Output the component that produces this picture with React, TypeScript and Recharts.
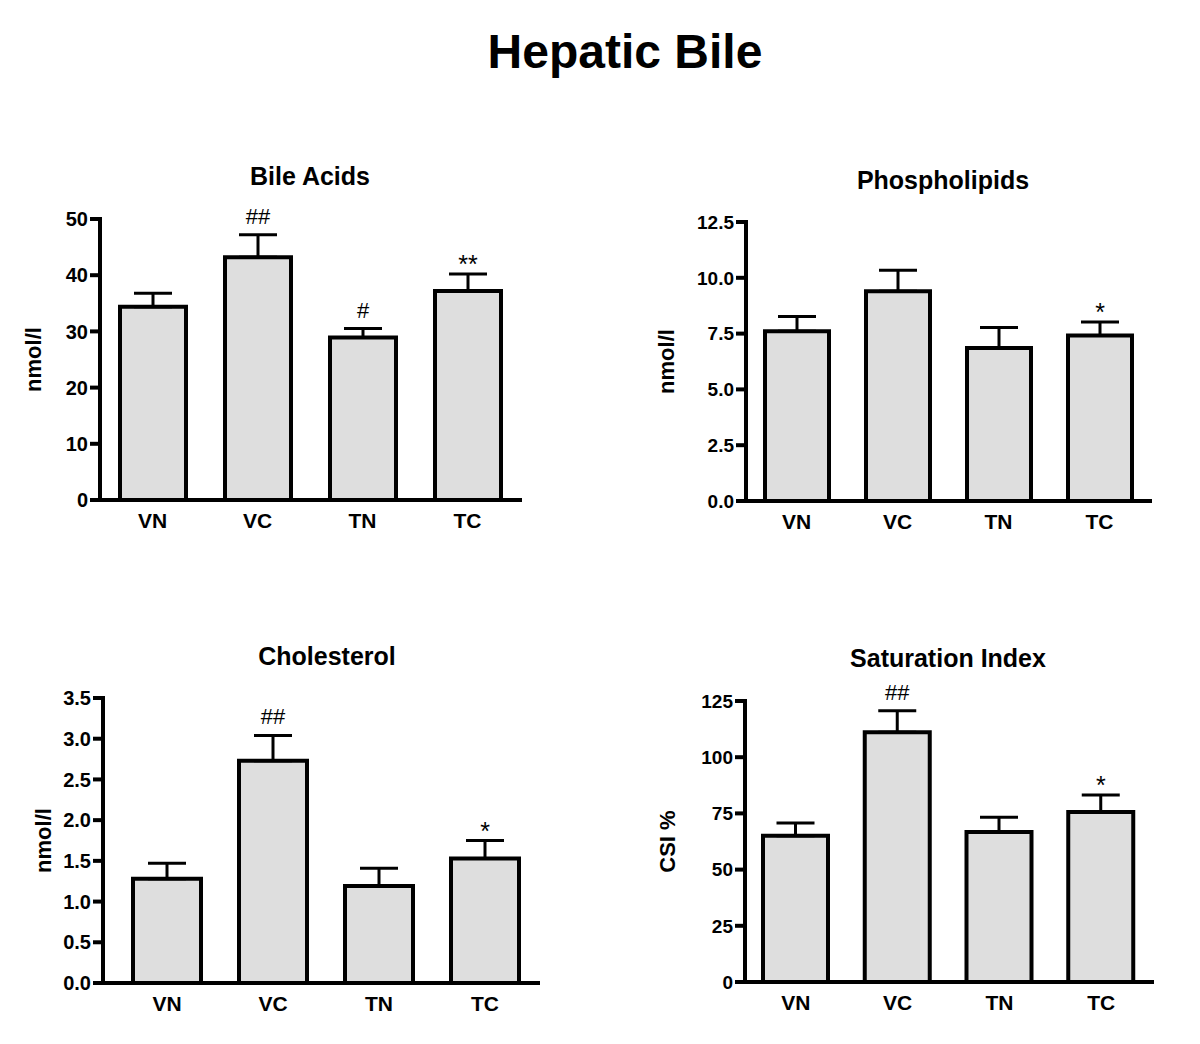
import React from 'react';
import { BarChart, Bar, XAxis, YAxis, ErrorBar, LabelList } from 'recharts';

const categories = ['VN', 'VC', 'TN', 'TC'];

// Bile acids (nmol/l)
const bileAcidsMean = [34.4, 43.2, 28.9, 37.2];
const bileAcidsSem = [2.4, 4.0, 1.6, 3.0];
const bileAcidsSig = ['', '##', '#', '**'];
const bileAcidsTicks = [0, 10, 20, 30, 40, 50];

// Phospholipids (nmol/l)
const phosMean = [7.6, 9.4, 6.86, 7.42];
const phosSem = [0.67, 0.94, 0.91, 0.6];
const phosSig = ['', '', '', '*'];
const phosTicks = [0, 2.5, 5, 7.5, 10, 12.5];

// Cholesterol (nmol/l)
const cholMean = [1.28, 2.73, 1.19, 1.53];
const cholSem = [0.19, 0.31, 0.22, 0.22];
const cholSig = ['', '##', '', '*'];
const cholTicks = [0, 0.5, 1, 1.5, 2, 2.5, 3, 3.5];

// Saturation index (CSI %)
const csiMean = [65.1, 111.1, 66.7, 75.6];
const csiSem = [5.6, 9.6, 6.6, 7.6];
const csiSig = ['', '##', '', '*'];
const csiTicks = [0, 25, 50, 75, 100, 125];

const FONT = '"Liberation Sans", Arial, Helvetica, sans-serif';

const yLabelContent = (text: string, cx: number) => (props: any) => {
  const vb = props.viewBox || { y: 0, height: 0 };
  const cy = vb.y + vb.height / 2;
  return (
    <text
      x={cx}
      y={cy}
      transform={`rotate(-90, ${cx}, ${cy})`}
      textAnchor="middle"
      dominantBaseline="central"
      fontFamily={FONT}
      fontWeight="bold"
      fontSize={22}
      fill="#000"
    >
      {text}
    </text>
  );
};

const sigContent = (means: number[], sems: number[]) => (props: any) => {
  const { x, y, width, height, index, value } = props;
  if (!value) return null;
  const pxPerUnit = Number(height) / means[index];
  const errTop = Number(y) - sems[index] * pxPerUnit;
  const isHash = String(value).includes('#');
  return (
    <text
      x={Number(x) + Number(width) / 2}
      y={errTop - (isHash ? 11 : 1)}
      textAnchor="middle"
      fontFamily={FONT}
      fontSize={isHash ? 22 : 25}
      fill="#000"
    >
      {value}
    </text>
  );
};

const Title = ({ text, cx, cy, size }: { text: string; cx: number; cy: number; size: number }) => (
  <div
    style={{
      position: 'absolute',
      left: cx - 300,
      width: 600,
      top: cy - size / 2,
      lineHeight: `${size}px`,
      fontSize: size,
      fontWeight: 'bold',
      fontFamily: FONT,
      textAlign: 'center',
      color: '#000',
    }}
  >
    {text}
  </div>
);

interface PanelProps {
  means: number[];
  sems: number[];
  sig: string[];
  ticks: number[];
  decimals: number;
  tickFont: number;
  yLabel: string;
  labelX: number;
  left: number;
  top: number;
  width: number;
  height: number;
  axisWidth: number;
  marginTop: number;
  marginRight: number;
  barSize: number;
  padLeft: number;
}

const Panel = (p: PanelProps) => {
  const data = categories.map((name, i) => ({
    name,
    mean: p.means[i],
    err: [0, p.sems[i]],
    sig: p.sig[i],
  }));
  return (
    <div style={{ position: 'absolute', left: p.left, top: p.top }}>
      <BarChart
        width={p.width}
        height={p.height}
        data={data}
        margin={{ top: p.marginTop, right: p.marginRight, bottom: 10, left: 0 }}
        style={{ overflow: 'visible' }}
      >
        <XAxis
          dataKey="name"
          interval={0}
          height={30}
          tickLine={false}
          tickSize={10}
          tickMargin={3}
          padding={{ left: p.padLeft, right: 0 }}
          axisLine={{ stroke: '#000', strokeWidth: 4, strokeLinecap: 'square' }}
          tick={{ fill: '#000', fontSize: 21, fontWeight: 'bold', fontFamily: FONT }}
        />
        <YAxis
          width={p.axisWidth}
          domain={[p.ticks[0], p.ticks[p.ticks.length - 1]]}
          ticks={p.ticks}
          interval={0}
          tickSize={10}
          tickMargin={2}
          tickFormatter={(v: number) => v.toFixed(p.decimals)}
          axisLine={{ stroke: '#000', strokeWidth: 4, strokeLinecap: 'square' }}
          tickLine={{ stroke: '#000', strokeWidth: 4 }}
          tick={{ fill: '#000', fontSize: p.tickFont, fontWeight: 'bold', fontFamily: FONT }}
          label={yLabelContent(p.yLabel, p.labelX - p.left)}
        />
        <Bar
          dataKey="mean"
          fill="#dedede"
          stroke="#000"
          strokeWidth={4}
          barSize={p.barSize}
          isAnimationActive={false}
        >
          <ErrorBar dataKey="err" width={19} stroke="#000" strokeWidth={3} direction="y" isAnimationActive={false} />
          <LabelList dataKey="sig" content={sigContent(p.means, p.sems)} />
        </Bar>
      </BarChart>
    </div>
  );
};

export default function App() {
  return (
    <div
      style={{
        position: 'absolute',
        left: 0,
        top: 0,
        width: 1200,
        height: 1044,
        background: '#fff',
        overflow: 'hidden',
      }}
    >
      <Title text="Hepatic Bile" cx={625} cy={52} size={48} />

      <Title text="Bile Acids" cx={310} cy={176} size={25} />
      <Panel
        means={bileAcidsMean}
        sems={bileAcidsSem}
        sig={bileAcidsSig}
        ticks={bileAcidsTicks}
        decimals={0}
        tickFont={20}
        yLabel="nmol/l"
        labelX={33}
        left={0}
        top={200}
        width={540}
        height={340}
        axisWidth={100}
        marginTop={19}
        marginRight={20}
        barSize={66}
        padLeft={0}
      />

      <Title text="Phospholipids" cx={943} cy={180} size={25} />
      <Panel
        means={phosMean}
        sems={phosSem}
        sig={phosSig}
        ticks={phosTicks}
        decimals={1}
        tickFont={19}
        yLabel="nmol/l"
        labelX={666}
        left={620}
        top={200}
        width={550}
        height={341}
        axisWidth={126}
        marginTop={22}
        marginRight={20}
        barSize={64}
        padLeft={0}
      />

      <Title text="Cholesterol" cx={327} cy={656} size={25} />
      <Panel
        means={cholMean}
        sems={cholSem}
        sig={cholSig}
        ticks={cholTicks}
        decimals={1}
        tickFont={20}
        yLabel="nmol/l"
        labelX={43}
        left={0}
        top={680}
        width={560}
        height={343}
        axisWidth={103}
        marginTop={18}
        marginRight={22}
        barSize={68}
        padLeft={11}
      />

      <Title text="Saturation Index" cx={948} cy={658} size={25} />
      <Panel
        means={csiMean}
        sems={csiSem}
        sig={csiSig}
        ticks={csiTicks}
        decimals={0}
        tickFont={19}
        yLabel="CSI %"
        labelX={667}
        left={620}
        top={680}
        width={550}
        height={342}
        axisWidth={125}
        marginTop={21}
        marginRight={18}
        barSize={65}
        padLeft={0}
      />
    </div>
  );
}
